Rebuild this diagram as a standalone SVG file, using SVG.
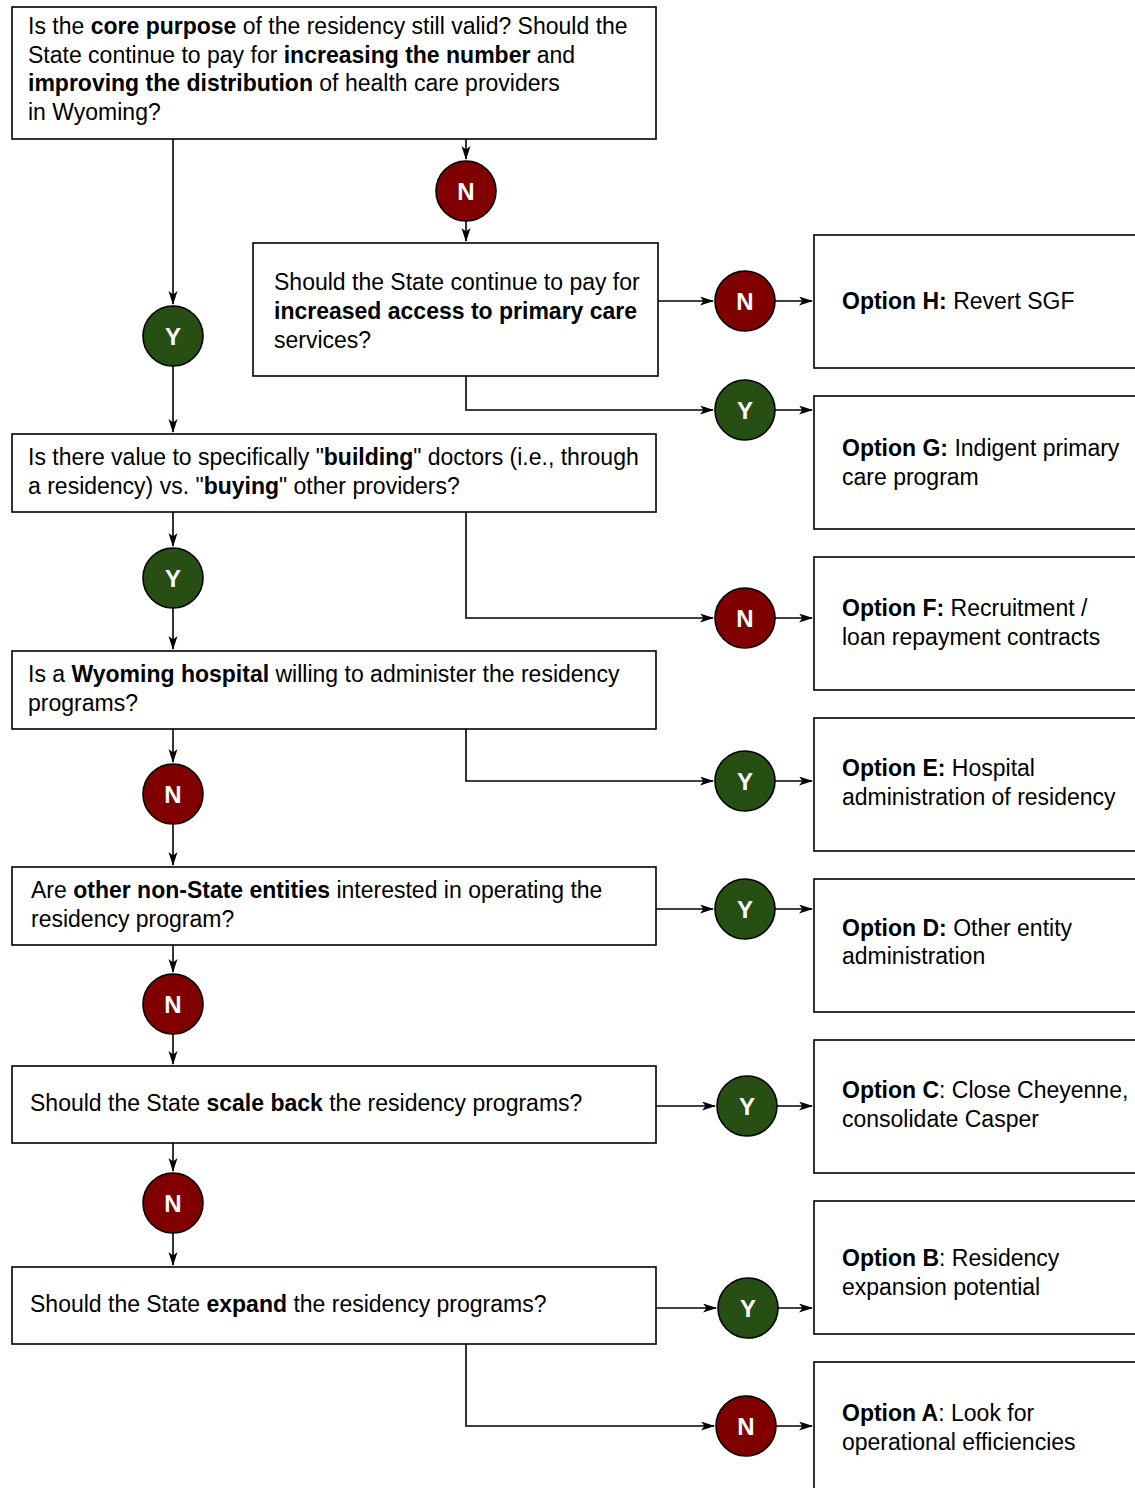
<svg xmlns="http://www.w3.org/2000/svg" width="1135" height="1488" viewBox="0 0 1135 1488">
<style>
.box{fill:#fff;stroke:#000;stroke-width:1.6}
.t{font-family:"Liberation Sans",Arial,sans-serif;font-size:23px;fill:#000}
.b{font-weight:bold}
.n{fill:#800000;stroke:#000;stroke-width:1.6}
.y{fill:#274e13;stroke:#000;stroke-width:1.6}
.ct{font-family:"Liberation Sans",Arial,sans-serif;font-size:24px;font-weight:bold;fill:#fff;text-anchor:middle}
.c{fill:none;stroke:#000;stroke-width:1.6}
</style>
<defs>
<marker id="ah" markerWidth="14" markerHeight="10" refX="13" refY="4.5" orient="auto" markerUnits="userSpaceOnUse">
<path d="M0,0 L14,4.5 L0,9 L3.5,4.5 z" fill="#000"/>
</marker>
</defs>
<rect width="1135" height="1488" fill="#fff"/>

<g id="connectors">
<path class="c" d="M173,139 V304" marker-end="url(#ah)"/>
<path class="c" d="M173,366 V432" marker-end="url(#ah)"/>
<path class="c" d="M466,139 V159" marker-end="url(#ah)"/>
<path class="c" d="M466,221 V241" marker-end="url(#ah)"/>
<path class="c" d="M658,301 H713" marker-end="url(#ah)"/>
<path class="c" d="M775,301 H812" marker-end="url(#ah)"/>
<path class="c" d="M466,376 V410 H713" marker-end="url(#ah)"/>
<path class="c" d="M775,410 H812" marker-end="url(#ah)"/>
<path class="c" d="M173,512 V546" marker-end="url(#ah)"/>
<path class="c" d="M173,608 V649" marker-end="url(#ah)"/>
<path class="c" d="M466,512 V618 H713" marker-end="url(#ah)"/>
<path class="c" d="M775,618 H812" marker-end="url(#ah)"/>
<path class="c" d="M173,729 V762" marker-end="url(#ah)"/>
<path class="c" d="M173,824 V865" marker-end="url(#ah)"/>
<path class="c" d="M466,729 V781 H713" marker-end="url(#ah)"/>
<path class="c" d="M775,781 H812" marker-end="url(#ah)"/>
<path class="c" d="M656,909 H713" marker-end="url(#ah)"/>
<path class="c" d="M775,909 H812" marker-end="url(#ah)"/>
<path class="c" d="M173,945 V972" marker-end="url(#ah)"/>
<path class="c" d="M173,1034 V1064" marker-end="url(#ah)"/>
<path class="c" d="M656,1106 H715" marker-end="url(#ah)"/>
<path class="c" d="M777,1106 H812" marker-end="url(#ah)"/>
<path class="c" d="M173,1143 V1171" marker-end="url(#ah)"/>
<path class="c" d="M173,1233 V1265" marker-end="url(#ah)"/>
<path class="c" d="M656,1308 H716" marker-end="url(#ah)"/>
<path class="c" d="M778,1308 H812" marker-end="url(#ah)"/>
<path class="c" d="M466,1344 V1426 H714" marker-end="url(#ah)"/>
<path class="c" d="M776,1426 H812" marker-end="url(#ah)"/>
</g>

<g id="q1"><rect class="box" x="12" y="7" width="644" height="132"/>
<text class="t" x="28" y="34">Is the <tspan class="b">core purpose</tspan> of the residency still valid? Should the</text>
<text class="t" x="28" y="63">State continue to pay for <tspan class="b">increasing the number</tspan> and</text>
<text class="t" x="28" y="91"><tspan class="b">improving the distribution</tspan> of health care providers</text>
<text class="t" x="28" y="120">in Wyoming?</text></g>

<g id="q2"><rect class="box" x="253" y="243" width="405" height="133"/>
<text class="t" x="274" y="290">Should the State continue to pay for</text>
<text class="t b" x="274" y="319">increased access to primary care</text>
<text class="t" x="274" y="348">services?</text></g>

<g id="q3"><rect class="box" x="12" y="434" width="644" height="78"/>
<text class="t" x="28" y="465">Is there value to specifically "<tspan class="b">building</tspan>" doctors (i.e., through</text>
<text class="t" x="28" y="494">a residency) vs. "<tspan class="b">buying</tspan>" other providers?</text></g>

<g id="q4"><rect class="box" x="12" y="651" width="644" height="78"/>
<text class="t" x="28" y="682">Is a <tspan class="b">Wyoming hospital</tspan> willing to administer the residency</text>
<text class="t" x="28" y="711">programs?</text></g>

<g id="q5"><rect class="box" x="12" y="867" width="644" height="78"/>
<text class="t" x="31" y="898">Are <tspan class="b">other non-State entities</tspan> interested in operating the</text>
<text class="t" x="31" y="927">residency program?</text></g>

<g id="q6"><rect class="box" x="12" y="1066" width="644" height="77"/>
<text class="t" x="30" y="1111">Should the State <tspan class="b">scale back</tspan> the residency programs?</text></g>

<g id="q7"><rect class="box" x="12" y="1267" width="644" height="77"/>
<text class="t" x="30" y="1312">Should the State <tspan class="b">expand</tspan> the residency programs?</text></g>

<g id="c1"><circle class="y" cx="173" cy="336" r="30"/><text class="ct" x="173" y="345">Y</text></g>
<g id="c2"><circle class="n" cx="466" cy="191" r="30"/><text class="ct" x="466" y="200">N</text></g>
<g id="c3"><circle class="n" cx="745" cy="301" r="30"/><text class="ct" x="745" y="310">N</text></g>
<g id="c4"><circle class="y" cx="745" cy="410" r="30"/><text class="ct" x="745" y="419">Y</text></g>
<g id="c5"><circle class="y" cx="173" cy="578" r="30"/><text class="ct" x="173" y="587">Y</text></g>
<g id="c6"><circle class="n" cx="745" cy="618" r="30"/><text class="ct" x="745" y="627">N</text></g>
<g id="c7"><circle class="n" cx="173" cy="794" r="30"/><text class="ct" x="173" y="803">N</text></g>
<g id="c8"><circle class="y" cx="745" cy="781" r="30"/><text class="ct" x="745" y="790">Y</text></g>
<g id="c9"><circle class="y" cx="745" cy="909" r="30"/><text class="ct" x="745" y="918">Y</text></g>
<g id="c10"><circle class="n" cx="173" cy="1004" r="30"/><text class="ct" x="173" y="1013">N</text></g>
<g id="c11"><circle class="y" cx="747" cy="1106" r="30"/><text class="ct" x="747" y="1115">Y</text></g>
<g id="c12"><circle class="n" cx="173" cy="1203" r="30"/><text class="ct" x="173" y="1212">N</text></g>
<g id="c13"><circle class="y" cx="748" cy="1308" r="30"/><text class="ct" x="748" y="1317">Y</text></g>
<g id="c14"><circle class="n" cx="746" cy="1426" r="30"/><text class="ct" x="746" y="1435">N</text></g>

<g id="optH"><rect class="box" x="814" y="235" width="340" height="133"/>
<text class="t" x="842" y="309"><tspan class="b">Option H:</tspan> Revert SGF</text></g>
<g id="optG"><rect class="box" x="814" y="396" width="340" height="133"/>
<text class="t" x="842" y="456"><tspan class="b">Option G:</tspan> Indigent primary</text>
<text class="t" x="842" y="485">care program</text></g>
<g id="optF"><rect class="box" x="814" y="557" width="340" height="133"/>
<text class="t" x="842" y="616"><tspan class="b">Option F:</tspan> Recruitment /</text>
<text class="t" x="842" y="645">loan repayment contracts</text></g>
<g id="optE"><rect class="box" x="814" y="718" width="340" height="133"/>
<text class="t" x="842" y="776"><tspan class="b">Option E:</tspan> Hospital</text>
<text class="t" x="842" y="805">administration of residency</text></g>
<g id="optD"><rect class="box" x="814" y="879" width="340" height="133"/>
<text class="t" x="842" y="936"><tspan class="b">Option D:</tspan> Other entity</text>
<text class="t" x="842" y="964">administration</text></g>
<g id="optC"><rect class="box" x="814" y="1040" width="340" height="133"/>
<text class="t" x="842" y="1098"><tspan class="b">Option C</tspan>: Close Cheyenne,</text>
<text class="t" x="842" y="1127">consolidate Casper</text></g>
<g id="optB"><rect class="box" x="814" y="1201" width="340" height="133"/>
<text class="t" x="842" y="1266"><tspan class="b">Option B</tspan>: Residency</text>
<text class="t" x="842" y="1295">expansion potential</text></g>
<g id="optA"><rect class="box" x="814" y="1362" width="340" height="140"/>
<text class="t" x="842" y="1421"><tspan class="b">Option A</tspan>: Look for</text>
<text class="t" x="842" y="1450">operational efficiencies</text></g>
</svg>
